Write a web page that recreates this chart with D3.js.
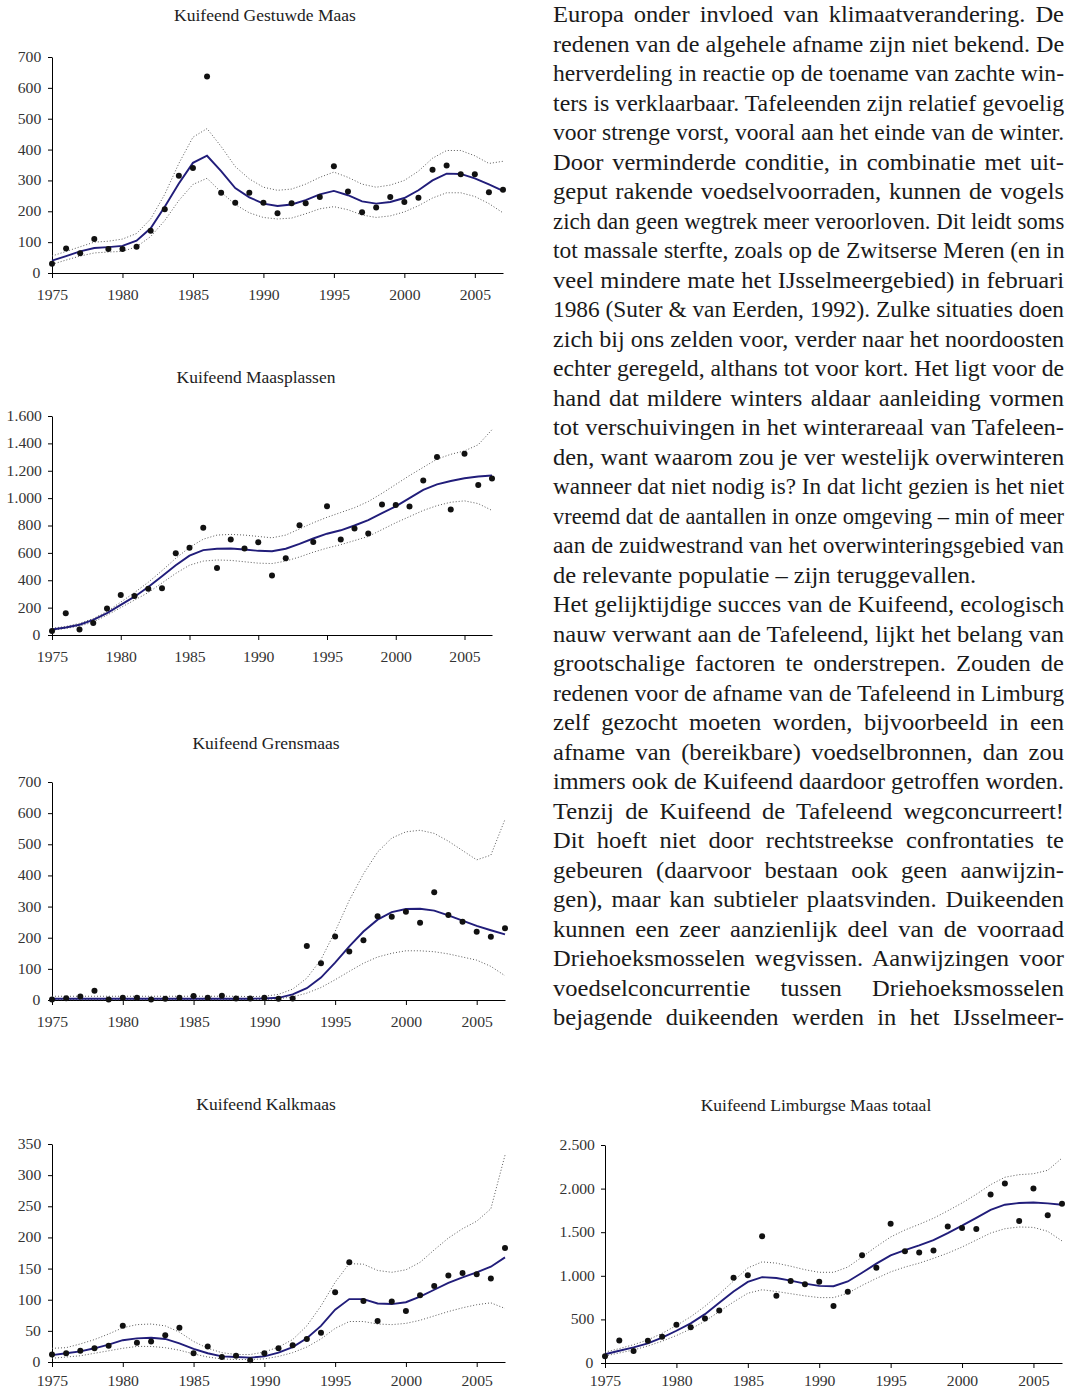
<!DOCTYPE html>
<html>
<head>
<meta charset="utf-8">
<script src="https://cdn.jsdelivr.net/npm/d3@7"></script>
<style>
    body { margin: 0; background: #fff; }
    svg text { font-family: "Liberation Serif", "Times New Roman", serif; }
    .tick text { fill: #333; font-size: 14px; transform-box: fill-box; transform-origin: center; transform: scaleX(1.12); }
    .domain, .tick line { stroke: #000; stroke-width: 1; }
</style>
</head>
<body>
<svg id="page" width="1069" height="1391"></svg>
<script>
// data
var years = [1975, 1976, 1977, 1978, 1979, 1980, 1981, 1982, 1983, 1984, 1985,
    1986, 1987, 1988, 1989, 1990, 1991, 1992, 1993, 1994, 1995, 1996,
    1997, 1998, 1999, 2000, 2001, 2002, 2003, 2004, 2005, 2006, 2007];
var yearTicks = [1975, 1980, 1985, 1990, 1995, 2000, 2005];

var gestuwdeTitle = 'Kuifeend Gestuwde Maas';
var gestuwdeTicks = [0, 100, 200, 300, 400, 500, 600, 700];
var gestuwdeCounts = [30, 79, 64, 110, 78, 78, 85, 137, 207, 315, 340, 637, 260, 228, 260, 228, 194,
    226, 226, 246, 346, 264, 197, 212, 246, 230, 244, 335, 348, 320, 320, 262, 270];
var gestuwdeTrend = [40, 55, 70, 81, 84, 88, 105, 145, 215, 290, 357, 380, 330, 275, 245, 225, 217,
    222, 236, 255, 266, 252, 232, 225, 230, 243, 268, 300, 322, 321, 307, 287, 266];
var gestuwdeUpper = [55, 70, 85, 100, 103, 110, 128, 175, 255, 355, 440, 468, 410, 345, 305, 278, 268,
    272, 288, 310, 327, 310, 288, 278, 285, 300, 330, 372, 397, 397, 380, 355, 362];
var gestuwdeLower = [28, 42, 55, 65, 68, 70, 85, 118, 170, 235, 287, 307, 262, 222, 195, 180, 175,
    178, 192, 208, 215, 205, 188, 180, 185, 198, 218, 243, 260, 260, 248, 225, 195];

var plassenTitle = 'Kuifeend Maasplassen';
var plassenTicks = [0, 200, 400, 600, 800, 1000, 1200, 1400, 1600];
var plassenCounts = [29, 158, 41, 88, 193, 293, 285, 337, 341, 598, 637, 783, 490, 698, 632, 678, 434,
    561, 802, 680, 941, 698, 778, 741, 954, 949, 939, 1129, 1300, 917, 1324, 1095, 1144];
var plassenTrend = [40, 55, 75, 110, 160, 220, 280, 350, 430, 510, 580, 620, 630, 632, 625, 615, 612,
    630, 665, 705, 740, 765, 800, 840, 890, 940, 1000, 1060, 1100, 1125, 1145, 1158, 1165];
var plassenUpper = [50, 62, 85, 120, 172, 240, 310, 385, 470, 560, 640, 700, 730, 735, 730, 720, 710,
    730, 775, 820, 860, 895, 930, 975, 1035, 1100, 1165, 1225, 1285, 1320, 1345, 1390, 1500];
var plassenLower = [35, 48, 65, 95, 145, 200, 255, 310, 380, 450, 510, 540, 548, 545, 535, 525, 522,
    540, 570, 605, 635, 660, 690, 720, 770, 820, 865, 910, 945, 970, 980, 960, 910];

var grensTitle = 'Kuifeend Grensmaas';
var grensTicks = [0, 100, 200, 300, 400, 500, 600, 700];
var grensCounts = [2, 6, 11, 30, 2, 7, 7, 2, 4, 7, 13, 7, 14, 5, 5, 7, 4,
    5, 173, 118, 204, 156, 192, 269, 267, 283, 248, 346, 273, 251, 219, 203, 230];
var grensTrend = [4, 4, 4, 4, 4, 4, 4, 4, 4, 4, 4, 4, 4, 4, 4, 5, 7,
    18, 38, 72, 120, 172, 220, 258, 282, 292, 293, 287, 272, 255, 238, 224, 211];
var grensUpper = [12, 12, 12, 12, 12, 12, 12, 12, 12, 12, 12, 12, 12, 12, 11, 12, 18,
    35, 70, 130, 220, 320, 405, 475, 520, 540, 545, 535, 510, 480, 450, 465, 580];
var grensLower = [1, 1, 1, 1, 1, 1, 1, 1, 1, 1, 1, 1, 1, 1, 1, 2, 4,
    10, 22, 40, 65, 92, 118, 138, 150, 158, 158, 155, 148, 138, 128, 108, 78];

var kalkTitle = 'Kuifeend Kalkmaas';
var kalkTicks = [0, 50, 100, 150, 200, 250, 300, 350];
var kalkCounts = [12, 14, 18, 22, 26, 58, 31, 33, 43, 55, 14, 25, 8, 10, 3, 14, 22,
    27, 37, 47, 112, 160, 98, 66, 97, 82, 107, 122, 139, 143, 141, 134, 183];
var kalkTrend = [11, 14, 17, 22, 28, 35, 38, 39, 37, 30, 21, 14, 9, 8, 7, 9, 15,
    24, 38, 58, 84, 101, 101, 94, 93, 96, 105, 116, 127, 136, 144, 153, 168];
var kalkUpper = [22, 23, 29, 36, 45, 55, 60, 61, 58, 48, 33, 22, 15, 12, 12, 16, 24,
    36, 58, 90, 128, 158, 157, 147, 144, 148, 160, 180, 199, 214, 226, 246, 332];
var kalkLower = [6, 8, 10, 14, 18, 22, 25, 25, 23, 19, 13, 8, 5, 4, 4, 5, 9,
    15, 24, 37, 54, 65, 65, 61, 60, 62, 67, 74, 81, 87, 92, 95, 86];

var totaalTitle = 'Kuifeend Limburgse Maas totaal';
var totaalTicks = [0, 500, 1000, 1500, 2000, 2500];
var totaalCounts = [76, 259, 137, 255, 301, 438, 411, 510, 601, 978, 1005, 1454, 772, 940, 902, 932, 654,
    818, 1237, 1092, 1598, 1282, 1267, 1290, 1564, 1549, 1537, 1933, 2059, 1629, 2002, 1693, 1826];
var totaalTrend = [100, 140, 180, 225, 290, 370, 455, 560, 690, 820, 930, 985, 975, 945, 910, 885, 880,
    935, 1035, 1140, 1235, 1295, 1350, 1410, 1490, 1575, 1665, 1755, 1815, 1835, 1840, 1830, 1815];
var totaalUpper = [125, 165, 210, 265, 340, 430, 530, 650, 790, 940, 1090, 1160, 1145, 1110, 1070, 1040, 1040,
    1100, 1215, 1335, 1445, 1525, 1590, 1660, 1745, 1835, 1935, 2045, 2130, 2160, 2170, 2210, 2350];
var totaalLower = [80, 115, 150, 195, 250, 315, 390, 480, 590, 700, 800, 840, 820, 795, 770, 750, 750,
    800, 890, 970, 1045, 1100, 1145, 1200, 1260, 1330, 1410, 1490, 1540, 1560, 1555, 1510, 1400];

var bodyLines = [
    'Europa onder invloed van klimaatverandering. De',
    'redenen van de algehele afname zijn niet bekend. De',
    'herverdeling in reactie op de toename van zachte win-',
    'ters is verklaarbaar. Tafeleenden zijn relatief gevoelig',
    'voor strenge vorst, vooral aan het einde van de winter.',
    'Door verminderde conditie, in combinatie met uit-',
    'geput rakende voedselvoorraden, kunnen de vogels',
    'zich dan geen wegtrek meer veroorloven. Dit leidt soms',
    'tot massale sterfte, zoals op de Zwitserse Meren (en in',
    'veel mindere mate het IJsselmeergebied) in februari',
    '1986 (Suter & van Eerden, 1992). Zulke situaties doen',
    'zich bij ons zelden voor, verder naar het noordoosten',
    'echter geregeld, althans tot voor kort. Het ligt voor de',
    'hand dat mildere winters aldaar aanleiding vormen',
    'tot verschuivingen in het winterareaal van Tafeleen-',
    'den, want waarom zou je ver westelijk overwinteren',
    'wanneer dat niet nodig is? In dat licht gezien is het niet',
    'vreemd dat de aantallen in onze omgeving – min of meer',
    'aan de zuidwestrand van het overwinteringsgebied van',
    'de relevante populatie – zijn teruggevallen.',
    'Het gelijktijdige succes van de Kuifeend, ecologisch',
    'nauw verwant aan de Tafeleend, lijkt het belang van',
    'grootschalige factoren te onderstrepen. Zouden de',
    'redenen voor de afname van de Tafeleend in Limburg',
    'zelf gezocht moeten worden, bijvoorbeeld in een',
    'afname van (bereikbare) voedselbronnen, dan zou',
    'immers ook de Kuifeend daardoor getroffen worden.',
    'Tenzij de Kuifeend de Tafeleend wegconcurreert!',
    'Dit hoeft niet door rechtstreekse confrontaties te',
    'gebeuren (daarvoor bestaan ook geen aanwijzin-',
    'gen), maar kan subtieler plaatsvinden. Duikeenden',
    'kunnen een zeer aanzienlijk deel van de voorraad',
    'Driehoeksmosselen wegvissen. Aanwijzingen voor',
    'voedselconcurrentie tussen Driehoeksmosselen',
    'bejagende duikeenden werden in het IJsselmeer-'
];
var ragged = [19];

// layout of the five panels
var panels = [
    { title: gestuwdeTitle, ticks: gestuwdeTicks, counts: gestuwdeCounts, trend: gestuwdeTrend, upper: gestuwdeUpper, lower: gestuwdeLower,
      left: 52, right: 503, top: 57, bottom: 273, titleX: 265, titleY: 21, pad: 12 },
    { title: plassenTitle, ticks: plassenTicks, counts: plassenCounts, trend: plassenTrend, upper: plassenUpper, lower: plassenLower,
      left: 52, right: 492, top: 416, bottom: 635, titleX: 256, titleY: 383, pad: 12 },
    { title: grensTitle, ticks: grensTicks, counts: grensCounts, trend: grensTrend, upper: grensUpper, lower: grensLower,
      left: 52, right: 505, top: 782, bottom: 1000, titleX: 266, titleY: 749, pad: 12 },
    { title: kalkTitle, ticks: kalkTicks, counts: kalkCounts, trend: kalkTrend, upper: kalkUpper, lower: kalkLower,
      left: 52, right: 505, top: 1144, bottom: 1362, titleX: 266, titleY: 1110, pad: 9 },
    { title: totaalTitle, ticks: totaalTicks, counts: totaalCounts, trend: totaalTrend, upper: totaalUpper, lower: totaalLower,
      left: 605, right: 1062, top: 1145, bottom: 1363, titleX: 816, titleY: 1111, pad: 8 }
];

var nl = d3.formatLocale({ decimal: ',', thousands: '.', grouping: [3], currency: ['€', ''] });
var svg = d3.select('#page');

function drawPanel (p) {
    var x = d3.scaleLinear()
        .domain([years[0], years[years.length - 1]])
        .range([p.left, p.right]);
    var y = d3.scaleLinear()
        .domain([0, p.ticks[p.ticks.length - 1]])
        .range([p.bottom, p.top]);

    var g = svg.append('g');

    g.append('text')
        .attr('x', p.titleX)
        .attr('y', p.titleY)
        .attr('text-anchor', 'middle')
        .style('font-size', '17.5px')
        .style('fill', '#222')
        .text(p.title);

    g.append('g')
        .attr('transform', 'translate(' + p.left + ',0)')
        .call(d3.axisLeft(y).tickValues(p.ticks).tickSizeInner(4).tickSizeOuter(0)
            .tickPadding(8).tickFormat(nl.format(',d')));

    g.append('g')
        .attr('transform', 'translate(0,' + p.bottom + ')')
        .call(d3.axisBottom(x).tickValues(yearTicks).tickSizeInner(5).tickSizeOuter(0)
            .tickPadding(p.pad).tickFormat(d3.format('d')));

    var line = d3.line()
        .x(function(d, i) { return x(years[i]); })
        .y(function(d) { return y(d); });

    [p.upper, p.lower].forEach(function(band) {
        g.append('path')
            .attr('d', line(band))
            .style('fill', 'none')
            .style('stroke', '#5a5a5a')
            .style('stroke-width', 1)
            .style('stroke-dasharray', '1,2');
    });

    g.append('path')
        .attr('d', line(p.trend))
        .style('fill', 'none')
        .style('stroke', '#211d7a')
        .style('stroke-width', 1.9);

    g.selectAll('circle')
        .data(p.counts)
        .enter().append('circle')
            .attr('cx', function(d, i) { return x(years[i]); })
            .attr('cy', function(d) { return y(d); })
            .attr('r', 3)
            .style('fill', '#111');
}

panels.forEach(drawPanel);

// body text: glyphs a bit wide, justified by word spacing, squeezed where needed
var textLeft = 553, textRight = 1064, stretch = 1.09;
var body = svg.append('g').style('font-size', '22.5px').style('fill', '#1a1a1a');
bodyLines.forEach(function(s, i) {
    var baseY = 22 + i * 29.5;
    var t = body.append('text')
        .attr('transform', 'translate(' + textLeft + ',' + baseY + ') scale(' + stretch + ',1)')
        .text(s);
    if (ragged.indexOf(i) >= 0) return;
    var natural = t.node().getComputedTextLength();
    var spaces = s.split(' ').length - 1;
    var ws = ((textRight - textLeft) / stretch - natural) / spaces;
    if (ws < 0) {
        var sx = (textRight - textLeft) / natural;
        t.attr('transform', 'translate(' + textLeft + ',' + baseY + ') scale(' + sx + ',1)');
    } else {
        t.style('word-spacing', ws + 'px');
    }
});
</script>
</body>
</html>
